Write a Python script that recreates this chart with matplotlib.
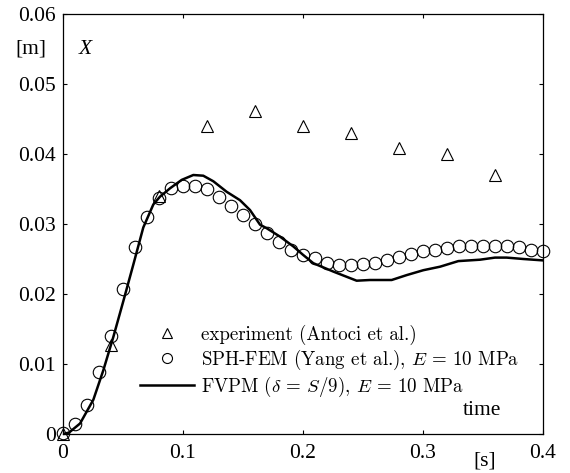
import matplotlib
matplotlib.use("Agg")
import matplotlib.pyplot as plt

plt.rcParams['font.family'] = ['Liberation Serif', 'DejaVu Serif']
plt.rcParams['mathtext.fontset'] = 'cm'

# Experiment (Antoci et al.)
exp_t = [0.0, 0.04, 0.08, 0.12, 0.16, 0.20, 0.24, 0.28, 0.32, 0.36]
exp_x = [0.0, 0.0127, 0.0340, 0.0440, 0.0461, 0.0440, 0.0430, 0.0408, 0.0400, 0.0370]

# SPH-FEM (Yang et al.)
sph_t = [0.00, 0.01, 0.02, 0.03, 0.04, 0.05, 0.06, 0.07, 0.08, 0.09,
         0.10, 0.11, 0.12, 0.13, 0.14, 0.15, 0.16, 0.17, 0.18, 0.19,
         0.20, 0.21, 0.22, 0.23, 0.24, 0.25, 0.26, 0.27, 0.28, 0.29,
         0.30, 0.31, 0.32, 0.33, 0.34, 0.35, 0.36, 0.37, 0.38, 0.39, 0.40]
sph_x = [0.0001, 0.0015, 0.0042, 0.0088, 0.0140, 0.0207, 0.0267, 0.0310, 0.0337, 0.0351,
         0.0355, 0.0355, 0.0350, 0.0338, 0.0326, 0.0313, 0.0300, 0.0287, 0.0274, 0.0263,
         0.0256, 0.0251, 0.0245, 0.0241, 0.0241, 0.0243, 0.0245, 0.0249, 0.0253, 0.0257,
         0.0261, 0.0263, 0.0265, 0.0268, 0.0269, 0.0269, 0.0269, 0.0268, 0.0267, 0.0263, 0.0262]

# FVPM
fvpm_t = [0.0, 0.005, 0.0142, 0.0253, 0.0336, 0.042, 0.0503, 0.0586, 0.0669, 0.0753,
          0.0808, 0.0892, 0.0989, 0.1086, 0.1169, 0.1253, 0.1364, 0.1475, 0.1558, 0.1642,
          0.1697, 0.1808, 0.1919, 0.2000, 0.2086, 0.2253, 0.2447, 0.2558, 0.2739, 0.2864,
          0.3003, 0.3142, 0.3294, 0.3475, 0.3600, 0.3697, 0.3836, 0.4000]
fvpm_x = [0.0, 0.0002, 0.0015, 0.0049, 0.0091, 0.0139, 0.0190, 0.0242, 0.0295, 0.0328,
          0.0339, 0.0351, 0.0363, 0.0370, 0.0369, 0.0361, 0.0346, 0.0334, 0.0320, 0.0299,
          0.0294, 0.0282, 0.0268, 0.0256, 0.0244, 0.0232, 0.0219, 0.0220, 0.0220, 0.0227,
          0.0234, 0.0239, 0.0247, 0.0249, 0.0252, 0.0252, 0.0250, 0.0248]

xticks = [0.0, 0.1, 0.2, 0.3, 0.4]
xtick_labels = ['0', '0.1', '0.2', '0.3', '0.4']
yticks = [0.0, 0.01, 0.02, 0.03, 0.04, 0.05, 0.06]
ytick_labels = ['0', '0.01', '0.02', '0.03', '0.04', '0.05', '0.06']

labels = ['experiment (Antoci et al.)',
          'SPH-FEM (Yang et al.), $E$ = 10 MPa',
          r'FVPM ($\delta$ = $S$/9), $E$ = 10 MPa']

W, H = 570, 473
fig = plt.figure(figsize=(W / 100, H / 100), dpi=100)
ax = fig.add_axes([63 / W, 1 - 434 / H, 480 / W, 420 / H])

h1, = ax.plot(exp_t, exp_x, linestyle='none', marker='^', ms=9, mfc='none',
              mec='black', mew=0.8, clip_on=False, zorder=3)
h2, = ax.plot(sph_t, sph_x, linestyle='none', marker='o', ms=9, mfc='none',
              mec='black', mew=0.8, clip_on=False, zorder=3)
h3, = ax.plot(fvpm_t, fvpm_x, color='black', lw=1.8, zorder=4)

ax.set_xlim(0, 0.4)
ax.set_ylim(0, 0.06)
ax.set_xticks(xticks)
ax.set_xticklabels(xtick_labels)
ax.set_yticks(yticks)
ax.set_yticklabels(ytick_labels)
ax.tick_params(direction='in', length=3, width=0.8, top=True, right=True,
               labelsize=15.5, pad=5)
ax.tick_params(axis='x', pad=7)
for s in ax.spines.values():
    s.set_linewidth(0.9)

leg = ax.legend([h1, h2, h3], labels, loc='upper left',
                bbox_to_anchor=(140 / W, 1 - 325 / H), bbox_transform=fig.transFigure,
                frameon=False, borderpad=0, borderaxespad=0,
                handlelength=2.86, handletextpad=0.35, labelspacing=0.13,
                markerscale=0.8, prop={'family': 'cmr10', 'size': 13.6})

fig.text(31 / W, 1 - 49 / H, '[m]', fontsize=15.5, ha='center', va='center')
fig.text(85 / W, 1 - 49 / H, 'X', fontsize=15.5, style='italic', ha='center', va='center')
fig.text(482 / W, 1 - 410 / H, 'time', fontsize=15.5, ha='center', va='center')
fig.text(485 / W, 1 - 461 / H, '[s]', fontsize=15.5, ha='center', va='center')

fig.savefig('out.png', dpi=100)
